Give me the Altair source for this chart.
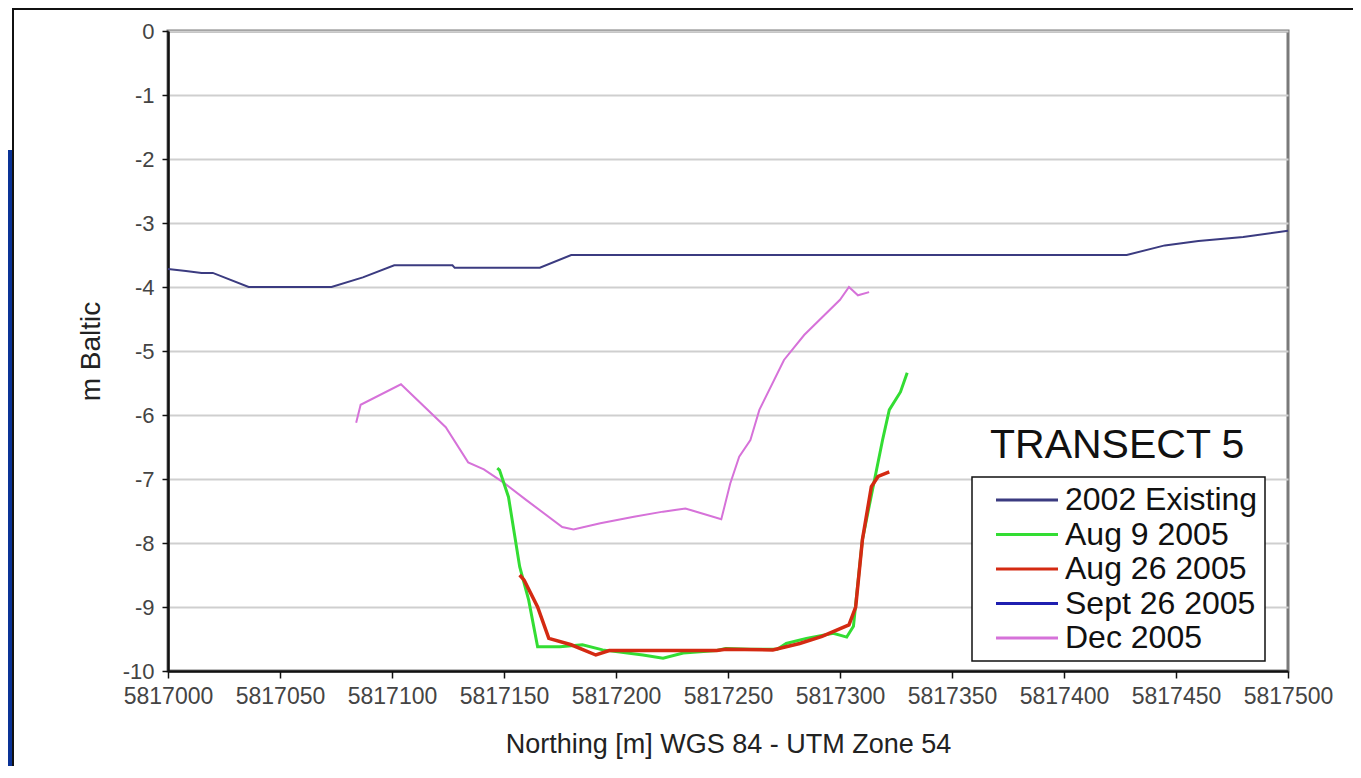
import altair as alt
import pandas as pd

series_names = ["2002 Existing", "Aug 9 2005", "Aug 26 2005", "Sept 26 2005", "Dec 2005"]
series_colors = ["#3b3b80", "#33dd33", "#d42a12", "#1f1fb0", "#d672d9"]

existing_x = [5817000, 5817008, 5817015, 5817020, 5817036, 5817073, 5817087, 5817101,
              5817127, 5817128, 5817166, 5817180, 5817428, 5817445, 5817460, 5817480, 5817500]
existing_y = [-3.72, -3.75, -3.78, -3.78, -4.0, -4.0, -3.85, -3.66,
              -3.66, -3.7, -3.7, -3.5, -3.5, -3.35, -3.28, -3.22, -3.12]

aug9_x = [5817147, 5817148, 5817152, 5817157, 5817161, 5817165, 5817175, 5817185, 5817194,
          5817212, 5817221, 5817230, 5817245, 5817249, 5817260, 5817272, 5817276, 5817285,
          5817297, 5817303, 5817306, 5817310, 5817316, 5817319, 5817322, 5817327, 5817330]
aug9_y = [-6.83, -6.86, -7.28, -8.37, -8.89, -9.62, -9.62, -9.59, -9.67,
          -9.75, -9.8, -9.72, -9.68, -9.65, -9.66, -9.66, -9.57, -9.49,
          -9.41, -9.47, -9.3, -7.95, -6.91, -6.39, -5.92, -5.64, -5.34]

aug26_x = [5817157, 5817159, 5817165, 5817170, 5817180, 5817191, 5817197, 5817215, 5817245,
           5817249, 5817270, 5817282, 5817292, 5817304, 5817307, 5817310, 5817314, 5817317, 5817322]
aug26_y = [-8.5, -8.58, -9.0, -9.49, -9.59, -9.75, -9.68, -9.68, -9.68,
           -9.66, -9.67, -9.57, -9.46, -9.28, -9.0, -7.95, -7.12, -6.96, -6.89]

sept26_x = []
sept26_y = []

dec_x = [5817084, 5817086, 5817104, 5817124, 5817134, 5817141, 5817150, 5817160, 5817176,
         5817181, 5817193, 5817208, 5817221, 5817231, 5817247, 5817251, 5817255, 5817260,
         5817264, 5817275, 5817284, 5817300, 5817304, 5817308, 5817313]
dec_y = [-6.12, -5.84, -5.52, -6.19, -6.74, -6.85, -7.06, -7.33, -7.75,
         -7.79, -7.69, -7.59, -7.51, -7.46, -7.63, -7.07, -6.65, -6.39,
         -5.92, -5.14, -4.75, -4.2, -4.0, -4.13, -4.08]

series_x = [existing_x, aug9_x, aug26_x, sept26_x, dec_x]
series_y = [existing_y, aug9_y, aug26_y, sept26_y, dec_y]

rows = []
for name, xs, ys in zip(series_names, series_x, series_y):
    for i, (xv, yv) in enumerate(zip(xs, ys)):
        rows.append({"series": name, "northing": xv, "depth": yv, "idx": i})
df = pd.DataFrame(rows)

x_domain = [5817000, 5817500]
y_domain = [-10, 0]
x_ticks = list(range(5817000, 5817501, 50))
y_ticks = list(range(-10, 1))

color_scale = alt.Scale(domain=series_names, range=series_colors)
x_scale = alt.Scale(domain=x_domain, nice=False, zero=False)
y_scale = alt.Scale(domain=y_domain, nice=False, zero=False)

legend = alt.Legend(
    title=None, orient="none", legendX=804, legendY=446,
    fillColor="white", strokeColor="#111",
    padding=7, symbolType="M-3.1,0H3.1", symbolSize=400, symbolStrokeWidth=3,
    symbolOffset=32, labelOffset=22, rowPadding=2.5,
    labelFontSize=32, labelFont="Liberation Sans", labelColor="#111",
    labelLimit=400,
)

base = alt.Chart(df).encode(
    x=alt.X("northing:Q", scale=x_scale,
            axis=alt.Axis(values=x_ticks, labelExpr="'' + datum.value",
                          labelOverlap=False, labelFlush=False,
                          title="Northing [m] WGS 84 - UTM Zone 54")),
    y=alt.Y("depth:Q", scale=y_scale,
            axis=alt.Axis(values=y_ticks, labelExpr="'' + datum.value",
                          labelOverlap=False, title="m Baltic")),
    color=alt.Color("series:N", scale=color_scale, legend=legend),
    order="idx:Q",
)

widths = {"2002 Existing": 2, "Aug 9 2005": 3, "Aug 26 2005": 3.5, "Sept 26 2005": 2, "Dec 2005": 2}
draw_order = ["2002 Existing", "Sept 26 2005", "Dec 2005", "Aug 9 2005", "Aug 26 2005"]

# thin dark-blue slide margin visible at the far left of the screenshot
strip = alt.Chart(alt.Data(values=[{"a": 1}])).mark_rect(fill="#0a3296").encode(
    x=alt.value(-160), x2=alt.value(-156), y=alt.value(119), y2=alt.value(760)
)
# black outline of the white chart panel
outline = alt.Chart(alt.Data(values=[{"a": 1}])).mark_rect(
    fillOpacity=0, stroke="#111", strokeWidth=2
).encode(
    x=alt.value(-155), x2=alt.value(1200), y=alt.value(-22), y2=alt.value(800)
)

layers = [strip, outline]
for s in draw_order:
    layers.append(
        base.transform_filter(alt.datum.series == s).mark_line(strokeWidth=widths[s])
    )

chart = alt.layer(*layers).properties(
    width=1120,
    height=640,
    background="white",
    padding={"left": 160, "top": 23, "right": 65, "bottom": 95},
    autosize=alt.AutoSizeParams(type="none"),
    title=alt.TitleParams(
        "TRANSECT 5", anchor="start", frame="group", orient="top",
        dx=822, dy=491, offset=0, baseline="alphabetic",
        fontSize=41, font="Liberation Sans", fontWeight="normal", color="#111",
    ),
).configure_view(
    stroke="#7a7a7a", strokeWidth=3
).configure_legend(
    strokeWidth=1.5
).configure_axis(
    grid=True, gridColor="#cfcfcf", gridWidth=2,
    labelFont="Liberation Sans", titleFont="Liberation Sans",
    labelColor="#444", titleColor="#222", titleFontWeight="normal",
    domainColor="#111", domainWidth=2.5, tickColor="#111", tickWidth=1.5,
).configure_axisX(
    grid=False,
    labelFontSize=23, tickSize=7, labelPadding=7, titleFontSize=27, titlePadding=23,
).configure_axisY(
    labelFontSize=22, tickSize=6, labelPadding=8, titleFontSize=28, titlePadding=17,
)

chart.save("out.html", embed_options={"renderer": "svg", "actions": False})
